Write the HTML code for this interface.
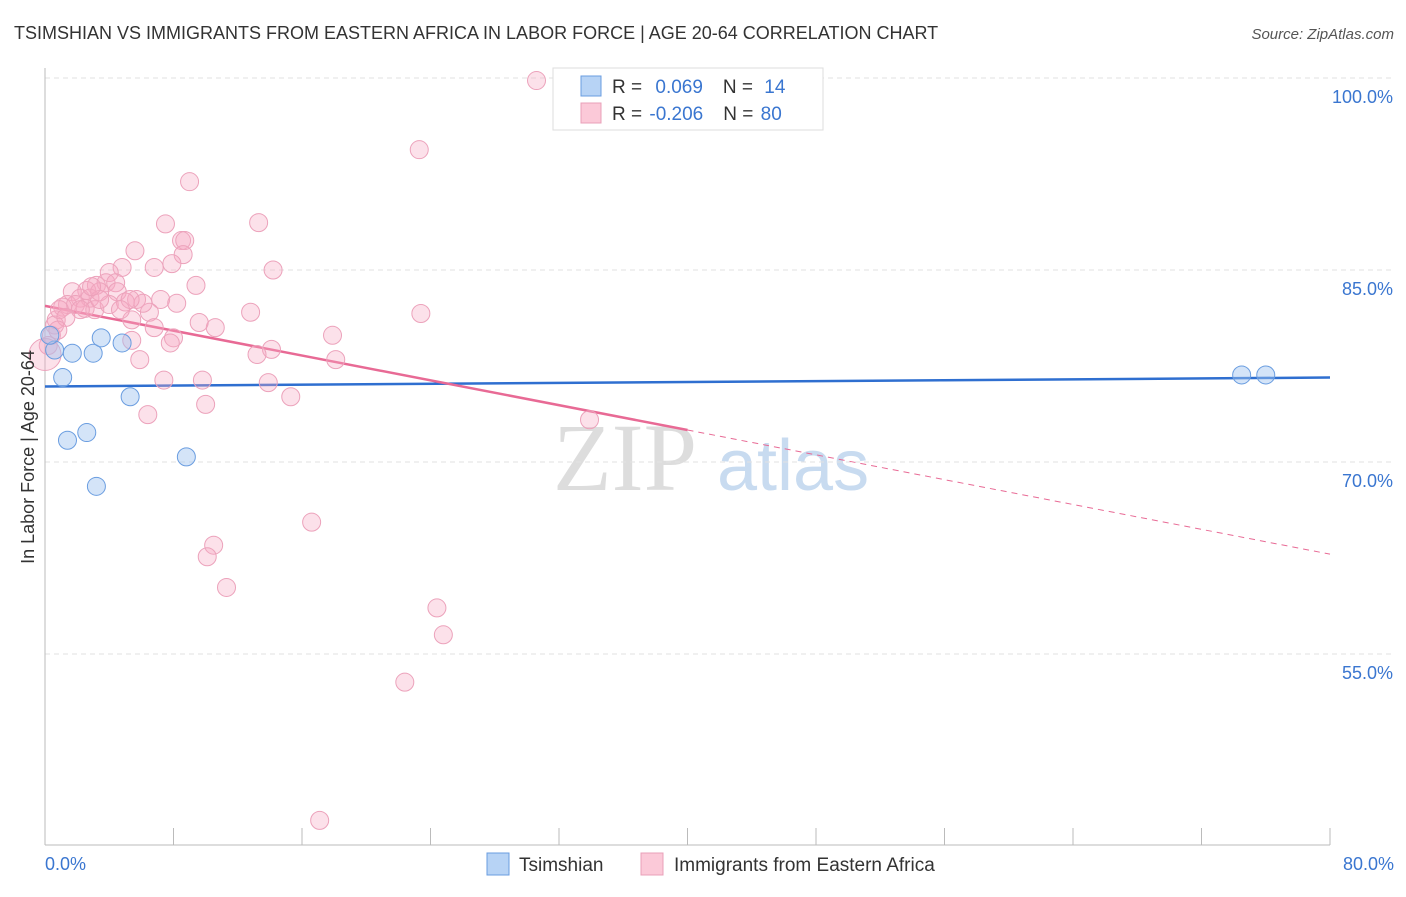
<!DOCTYPE html>
<html><head><meta charset="utf-8"><style>
body{margin:0;background:#fff;font-family:"Liberation Sans",sans-serif;}
</style></head><body>
<svg id="chart" width="1406" height="892" xmlns="http://www.w3.org/2000/svg" font-family="Liberation Sans, sans-serif">
<text x="14" y="39" font-size="18" fill="#333">TSIMSHIAN VS IMMIGRANTS FROM EASTERN AFRICA IN LABOR FORCE | AGE 20-64 CORRELATION CHART</text>
<text x="1394" y="39" font-size="15" fill="#555" text-anchor="end" font-style="italic">Source: ZipAtlas.com</text>
<g>
<text x="553" y="490" font-size="96" font-family="Liberation Serif, serif" fill="#ddd">ZIP</text>
<text x="717" y="490" font-size="72" fill="#c8dbf0">atlas</text>
</g>
<g id="grid"></g>
<g id="axes"></g>
<g id="trends"></g>
<g id="points"></g>
<text transform="translate(34,457) rotate(-90)" font-size="18" fill="#333" text-anchor="middle">In Labor Force | Age 20-64</text>
<g>
<rect x="553" y="68" width="270" height="62" fill="#fff" stroke="#ddd"/>
<rect x="581" y="76" width="20" height="20" fill="#b7d3f5" stroke="#6a9de0"/>
<rect x="581" y="103" width="20" height="20" fill="#fbc9d8" stroke="#e8a0b8"/>
<text x="612" y="93" font-size="19" fill="#333">R = <tspan fill="#3a76d0" dx="8">0.069</tspan><tspan dx="20">N = </tspan><tspan fill="#3a76d0" dx="6">14</tspan></text>
<text x="612" y="120" font-size="19" fill="#333">R = <tspan fill="#3a76d0" dx="2">-0.206</tspan><tspan dx="20">N = </tspan><tspan fill="#3a76d0" dx="2">80</tspan></text>
</g>
<g>
<rect x="487" y="853" width="22" height="22" fill="#b7d3f5" stroke="#6a9de0"/>
<text x="519" y="871" font-size="19" fill="#333">Tsimshian</text>
<rect x="641" y="853" width="22" height="22" fill="#fbc9d8" stroke="#e8a0b8"/>
<text x="674" y="871" font-size="19" fill="#333">Immigrants from Eastern Africa</text>
</g>
</svg>
<script>
const yTicks=[100,85,70,55];
const yTickLabels=["100.0%","85.0%","70.0%","55.0%"];
const xTickLabels=["0.0%","80.0%"];
const blueX=[0.6,1.1,1.7,3.0,3.5,4.8,5.3,1.4,2.6,3.2,8.8,74.5,76.0,0.3];
const blueY=[78.75,76.6,78.5,78.5,79.7,79.3,75.1,71.7,72.3,68.1,70.4,76.8,76.8,79.9];
const pinkX=[30.6,33.0,23.3,9.0,13.3,7.5,8.5,8.7,8.6,5.6,7.9,4.8,6.8,14.2,4.0,9.4,3.2,3.8,4.4,2.6,1.7,2.2,2.8,3.4,4.5,5.7,5.0,7.2,8.2,1.4,1.1,1.9,2.5,3.1,12.8,23.4,6.5,5.4,0.7,0.6,6.8,10.6,9.6,17.9,0.4,0.2,8.0,7.8,5.4,14.1,13.2,5.9,18.1,7.4,9.8,13.9,15.3,10.0,6.4,33.9,16.6,10.5,10.1,11.3,24.4,24.8,22.4,17.1,0.9,2.2,4.0,6.1,5.3,3.4,2.9,4.7,1.3,0.8,0.0];
const pinkY=[99.8,99.8,94.4,91.9,88.7,88.6,87.3,87.3,86.2,86.5,85.5,85.2,85.2,85.0,84.8,83.8,83.8,84.0,84.0,83.4,83.3,82.8,82.8,83.3,83.3,82.7,82.5,82.7,82.4,82.3,82.1,82.3,82.0,81.9,81.7,81.6,81.7,81.1,81.1,80.7,80.5,80.5,80.9,79.9,79.9,79.1,79.7,79.3,79.5,78.8,78.4,78.0,78.0,76.4,76.4,76.2,75.1,74.5,73.7,73.3,65.3,63.5,62.6,60.2,58.6,56.5,52.8,42.0,81.9,81.9,82.3,82.4,82.7,82.7,83.7,81.9,81.3,80.3,78.4];
const blueTrend=[75.9,76.6];   // y at x=0, x=80
const pinkTrend=[82.2,62.8];   // y at x=0, x=80
const pinkSolidEnd=40;

const X=v=>45+v*(1285/80);
const Y=v=>270+(85-v)*12.8;
const NS="http://www.w3.org/2000/svg";
function mk(tag,parent,attrs){const e=document.createElementNS(NS,tag);for(const k in attrs)e.setAttribute(k,attrs[k]);parent.appendChild(e);return e;}
const grid=document.getElementById('grid'),axes=document.getElementById('axes'),trends=document.getElementById('trends'),pts=document.getElementById('points');
yTicks.forEach((t,i)=>{
  const l=mk('line',grid,{x1:45,x2:1394,y1:Y(t),y2:Y(t),stroke:'#e2e2e2','stroke-dasharray':'5,4'});
  
  
  const tx=mk('text',axes,{x:1393,y:Y(t)+25,'font-size':18,fill:'#3a76d0','text-anchor':'end'});
  tx.textContent=yTickLabels[i];
  
  
});
const ax=mk('line',axes,{x1:45,x2:45,y1:68,y2:845,stroke:'#bbb'});


const bx=mk('line',axes,{x1:45,x2:1330,y1:845,y2:845,stroke:'#bbb'});


for(let i=0;i<=10;i++){
  const tk=mk('line',axes,{x1:X(i*8),x2:X(i*8),y1:828,y2:845,stroke:'#bbb'});
  
  
}
[[0,'start',45],[1,'end',1394]].forEach(([i,a,x])=>{
  const t=mk('text',axes,{x:x,y:870,'font-size':18,fill:'#3a76d0','text-anchor':a});
  t.textContent=xTickLabels[i];
  
  
});
pinkX.forEach((x,i)=>{
  const big=(x===0&&i===pinkX.length-1);
  const c=mk('circle',pts,{cx:X(x),cy:Y(pinkY[i]),r:big?16:9,fill:'rgba(246,170,196,0.35)',stroke:'#eca2bb','stroke-width':1});
  
  
});
blueX.forEach((x,i)=>{
  const c=mk('circle',pts,{cx:X(x),cy:Y(blueY[i]),r:9,fill:'rgba(160,196,240,0.45)',stroke:'#6a9de0','stroke-width':1});
  
  
});
const py=x=>pinkTrend[0]+(pinkTrend[1]-pinkTrend[0])*x/80;
const bt=mk('line',trends,{x1:X(0),y1:Y(blueTrend[0]),x2:X(80),y2:Y(blueTrend[1]),stroke:'#2f6fd0','stroke-width':2.5});


const pt=mk('line',trends,{x1:X(0),y1:Y(py(0)),x2:X(pinkSolidEnd),y2:Y(py(pinkSolidEnd)),stroke:'#e86a95','stroke-width':2.5});


const pd=mk('line',trends,{x1:X(pinkSolidEnd),y1:Y(py(pinkSolidEnd)),x2:X(80),y2:Y(py(80)),stroke:'#e86a95','stroke-width':1,'stroke-dasharray':'6,5'});


</script>
</body></html>
